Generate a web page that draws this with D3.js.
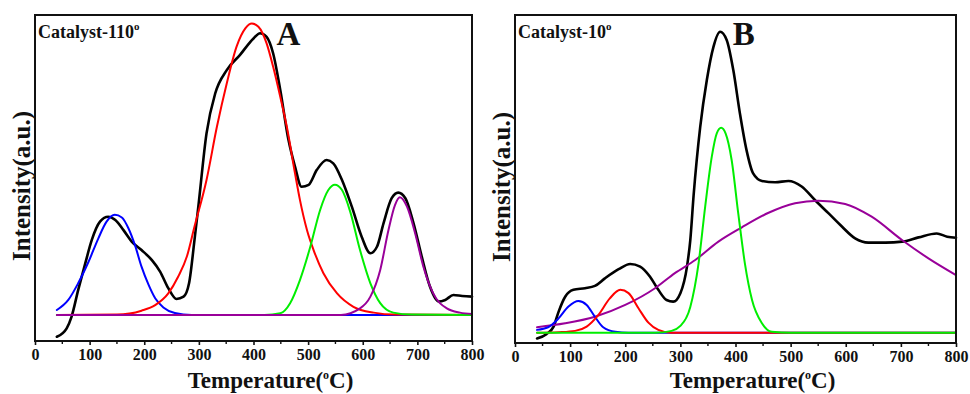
<!DOCTYPE html>
<html>
<head>
<meta charset="utf-8">
<script src="https://cdn.jsdelivr.net/npm/d3@7"></script>
<style>
  body { margin: 0; background: #fff; }
  svg text { font-family: "Liberation Serif", "Times New Roman", serif; font-weight: bold; fill: #111; }
</style>
</head>
<body>
<svg id="chart" width="970" height="394"></svg>
<script>
// temperature ticks, shared by both panels
var majorTicks = [0, 100, 200, 300, 400, 500, 600, 700, 800];
var minorTicks = [50, 150, 250, 350, 450, 550, 650, 750];

// panel A  (Catalyst-110), [temperature, intensity]
var blackA = [[40,1.3],[58,3.9],[67,7.5],[79,15.6],[92,23.8],[104,31],[119,36.6],[134,38.1],[147,37.1],[162,34],[177,30.5],[195,27.9],[214,24.8],[229,21.3],[244,16.2],[259,12.9],[272,13.6],[282,17.7],[292,31],[299,41.2],[314,63.7],[330,76],[351,83.1],[375,87.7],[400,92.8],[412,94.4],[424,93.3],[436,88.2],[449,77],[464,61.7],[476,53.5],[488,47.3],[501,47.9],[516,52.5],[534,55.5],[546,54.5],[562,49.4],[580,41.2],[598,32],[614,26.9],[626,28.9],[638,36.1],[653,43.8],[665,45.5],[678,43.8],[693,36.1],[708,25.9],[723,16.7],[739,12.1],[751,12.6],[766,14.1],[782,13.8],[800,13.6]];
var blueA = [[40,9.5],[61,12.6],[79,17.7],[98,24.3],[116,31.5],[131,36.6],[146,38.7],[159,37.9],[171,34.6],[183,29.4],[195,22.8],[208,17.2],[220,13.1],[235,10.3],[256,8.6],[287,8],[800,8]];
var redA = [[40,8],[150,8.1],[195,9.3],[220,11],[244,14.6],[262,19.7],[278,25.9],[292,35.1],[314,49.4],[333,65.7],[351,79],[369,90.3],[385,95.9],[397,97.4],[409,96.4],[424,91.3],[436,84.1],[449,74.9],[461,65.7],[476,51.4],[485,43.3],[498,34],[510,27.9],[528,20.8],[553,14.6],[583,10.5],[620,8.7],[660,8.1],[800,8]];
var greenA = [[40,8],[420,8],[449,8.5],[467,11.6],[485,18.7],[504,28.9],[522,40.2],[537,46.3],[549,47.9],[562,46.3],[577,39.7],[595,27.9],[614,17.7],[632,11.6],[656,8.7],[690,8.1],[800,8]];
var purpleA = [[40,8],[560,8],[595,10],[614,13.6],[632,21.8],[647,34],[659,41.7],[668,44.1],[681,41.2],[696,33],[711,22.8],[729,14.6],[754,10],[778,8.7],[800,8.3]];

// panel B  (Catalyst-10)
var blackB = [[40,1.4],[57,2.7],[70,5],[79,9.5],[91,14.1],[106,16.2],[127,16.7],[145,17.4],[163,19.7],[188,22.5],[209,24.1],[227,23.3],[245,20.2],[260,16.2],[275,13.1],[287,12.6],[300,15.2],[312,23.3],[318,31.4],[324,45],[336,65.9],[348,80.2],[360,90.3],[372,94.9],[384,92.4],[396,83.2],[408,70],[420,58.8],[432,51.7],[448,49.4],[472,49],[496,49.4],[520,47.7],[544,43.6],[569,39.5],[593,35.5],[617,31.9],[641,30.6],[672,30.6],[702,30.9],[732,32.2],[765,33.4],[784,32.4],[800,32.1]];
var purpleB = [[40,4.8],[91,6],[145,8],[200,11.6],[254,16.7],[290,21.3],[327,25.3],[369,30.9],[411,35.2],[460,39.7],[508,42.6],[550,43.4],[599,42.4],[647,38.5],[702,31.4],[750,25.8],[800,20.7]];
var blueB = [[40,4],[60,4.8],[79,7.5],[97,11.1],[115,12.8],[130,11.6],[145,8],[160,4.8],[182,3.4],[206,3.1],[800,3.1]];
var redB = [[40,3.1],[79,3.3],[109,3.7],[130,5],[151,8.5],[172,13.6],[191,16.2],[206,15.2],[224,10.6],[242,6.2],[260,4],[284,3.1],[800,3.1]];
var greenB = [[40,3.1],[254,3.1],[284,3.7],[300,5.2],[318,11],[333,24.3],[345,41.6],[357,56.8],[366,63.9],[374,65.6],[382,63.9],[393,55.8],[405,39.5],[417,24.3],[430,13.1],[448,6],[466,3.4],[500,3.1],[800,3.1]];

var svg = d3.select('#chart');

function drawPanel(p) {
  var x = d3.scaleLinear().domain([0, 800]).range([p.left, p.right]);
  var y = d3.scaleLinear().domain([0, 100]).range([p.bottom, p.top]);
  var g = svg.append('g');

  var line = d3.line()
    .x(function (d) { return x(d[0]) })
    .y(function (d) { return y(d[1]) })
    .curve(d3.curveMonotoneX);

  // curves, drawn in the order they sit on top of each other
  p.series.forEach(function (s) {
    g.append('path')
      .attr('d', line(s.data))
      .attr('fill', 'none')
      .attr('stroke', s.color)
      .attr('stroke-width', s.width)
      .attr('stroke-linejoin', 'round')
      .attr('stroke-linecap', 'round');
  });

  // frame
  g.append('rect')
    .attr('x', p.left).attr('y', p.top)
    .attr('width', p.right - p.left).attr('height', p.bottom - p.top)
    .attr('fill', 'none').attr('stroke', '#111').attr('stroke-width', 2);

  // bottom axis
  var axis = g.append('g').attr('transform', 'translate(0,' + p.bottom + ')')
    .call(d3.axisBottom(x).tickValues(majorTicks).tickSize(4).tickPadding(4).tickFormat(d3.format('d')));
  axis.select('.domain').remove();
  axis.selectAll('.tick line').attr('stroke', '#111').attr('stroke-width', 1.6);
  axis.selectAll('.tick text')
    .attr('font-size', 16).attr('fill', '#111')
    .style('font-family', '"Liberation Serif", serif').style('font-weight', 'bold');
  g.selectAll('.minor').data(minorTicks).enter().append('line')
    .attr('x1', function (d) { return x(d) }).attr('x2', function (d) { return x(d) })
    .attr('y1', p.bottom).attr('y2', p.bottom + 3)
    .attr('stroke', '#111').attr('stroke-width', 1.4);

  // axis titles
  var xt = g.append('text')
    .attr('x', (p.left + p.right) / 2 + 17).attr('y', 388)
    .attr('text-anchor', 'middle').attr('font-size', 23);
  xt.append('tspan').text('Temperature(');
  xt.append('tspan').attr('font-size', 12).attr('dy', -9).text('o');
  xt.append('tspan').attr('dy', 9).text('C)');

  g.append('text')
    .attr('transform', 'translate(' + p.ylabelX + ',' + ((p.top + p.bottom) / 2 + 8) + ') rotate(-90)')
    .attr('text-anchor', 'middle').attr('font-size', 25)
    .text('Intensity(a.u.)');

  // sample name and panel letter
  var nm = g.append('text').attr('x', p.left + 3).attr('y', p.top + 23).attr('font-size', 18);
  nm.append('tspan').text(p.name);
  nm.append('tspan').attr('font-size', 11).attr('dy', -8).text('o');

  g.append('text').attr('x', x(p.letterAt)).attr('y', p.top + 30)
    .attr('font-size', 33).text(p.letter);
}

drawPanel({
  left: 35, right: 472, top: 15, bottom: 341, ylabelX: 30,
  name: 'Catalyst-110', letter: 'A', letterAt: 442,
  series: [
    { data: blackA, color: '#000', width: 2.6 },
    { data: blueA, color: '#0000ff', width: 2 },
    { data: redA, color: '#ff0000', width: 2 },
    { data: greenA, color: '#00ee00', width: 2 },
    { data: purpleA, color: '#990099', width: 2 }
  ]
});

drawPanel({
  left: 515, right: 956, top: 15, bottom: 343, ylabelX: 510,
  name: 'Catalyst-10', letter: 'B', letterAt: 395,
  series: [
    { data: blackB, color: '#000', width: 2.6 },
    { data: purpleB, color: '#990099', width: 2 },
    { data: blueB, color: '#0000ff', width: 2 },
    { data: redB, color: '#ff0000', width: 2 },
    { data: greenB, color: '#00ee00', width: 2 }
  ]
});
</script>
</body>
</html>
